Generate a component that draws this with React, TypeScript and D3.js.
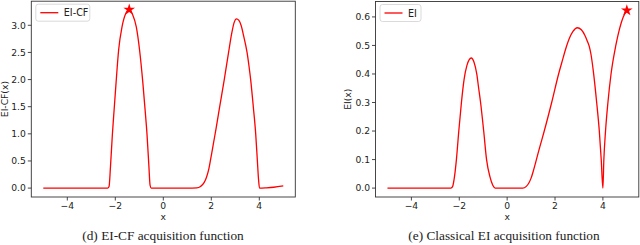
import React from "react";
import * as d3 from "d3";

// ---- data ----
const eiCfX = [-5, -2.32, -2.26, -2.2, -2.12, -2.04, -1.97, -1.86, -1.72, -1.56, -1.42, -1.28, -1.125, -0.99, -0.85, -0.76, -0.68, -0.6, -0.55, -0.5, 0, 1.0, 1.4, 1.55, 1.7, 1.8, 1.9, 2.0, 2.1, 2.2, 2.35, 2.54, 2.72, 2.85, 2.95, 3.05, 3.15, 3.24, 3.35, 3.49, 3.57, 3.64, 3.75, 3.85, 3.92, 3.97, 4.01, 4.3, 4.6, 5.0];
const eiCfY = [0, 0, 0.03, 0.4, 1.0, 1.5, 1.93, 2.55, 2.97, 3.22, 3.29, 3.2, 2.97, 2.55, 1.93, 1.45, 1.0, 0.4, 0.05, 0, 0, 0, 0.005, 0.03, 0.1, 0.2, 0.36, 0.6, 0.85, 1.1, 1.5, 2.0, 2.5, 2.85, 3.05, 3.12, 3.09, 3.0, 2.8, 2.5, 2.25, 2.0, 1.5, 1.0, 0.5, 0.15, 0.0, 0.006, 0.016, 0.04];
const eiCfBest = [-1.42, 3.29];

const eiX = [-5, -2.35, -2.28, -2.2, -2.12, -2.02, -1.91, -1.8, -1.68, -1.5, -1.38, -1.27, -1.19, -1.11, -0.98, -0.86, -0.72, -0.6, -0.5, 0, 0.65, 0.8, 0.9, 1.0, 1.1, 1.2, 1.35, 1.55, 1.86, 2.15, 2.3, 2.48, 2.6, 2.75, 2.93, 3.1, 3.25, 3.35, 3.43, 3.5, 3.6, 3.74, 3.85, 3.93, 4.0, 4.04, 4.11, 4.21, 4.34, 4.54, 4.85, 5.0];
const eiY = [0, 0, 0.005, 0.04, 0.1, 0.2, 0.3, 0.38, 0.43, 0.456, 0.44, 0.4, 0.35, 0.3, 0.2, 0.1, 0.04, 0.01, 0, 0, 0, 0.006, 0.017, 0.035, 0.062, 0.093, 0.14, 0.2, 0.3, 0.4, 0.445, 0.497, 0.525, 0.549, 0.562, 0.555, 0.535, 0.515, 0.497, 0.47, 0.41, 0.3, 0.2, 0.1, 0.0, 0.1, 0.2, 0.3, 0.4, 0.5, 0.6, 0.623];
const eiBest = [5.0, 0.623];

const xTicks = [-4, -2, 0, 2, 4];
const eiCfYTicks = [0, 0.5, 1.0, 1.5, 2.0, 2.5, 3.0];
const eiYTicks = [0, 0.1, 0.2, 0.3, 0.4, 0.5, 0.6];

const tickFont = "DejaVu Sans, sans-serif";

type PanelProps = {
  left: number; right: number; top: number; bottom: number;
  yDomain: [number, number];
  xs: number[]; ys: number[]; best: number[];
  yTicks: number[]; yLabel: string; legend: string; legendW: number;
  ylabelX: number; caption: string; captionX: number;
};

function Panel(p: PanelProps) {
  const x = d3.scaleLinear().domain([-5.5, 5.5]).range([p.left, p.right]);
  const y = d3.scaleLinear().domain(p.yDomain).range([p.bottom, p.top]);
  const pts: [number, number][] = p.xs.map((v, i) => [v, p.ys[i]]);
  const line = d3.line<[number, number]>().x(d => x(d[0])).y(d => y(d[1])).curve(d3.curveMonotoneX);
  const star = d3.symbol().type(d3.symbolStar).size(42)();
  const axColor = "#333";
  const midY = (p.top + p.bottom) / 2;
  return (
    <g>
      <path d={line(pts) || ""} fill="none" stroke="#ff0000" strokeWidth={1.3} />
      <path d={star || ""} transform={`translate(${x(p.best[0])},${y(p.best[1])})`} fill="#ff0000" />
      <rect x={p.left} y={p.top} width={p.right - p.left} height={p.bottom - p.top} fill="none" stroke={axColor} strokeWidth={0.9} />
      {xTicks.map(t => (
        <g key={"x" + t}>
          <line x1={x(t)} x2={x(t)} y1={p.bottom} y2={p.bottom + 3.5} stroke={axColor} strokeWidth={0.9} />
          <text x={x(t)} y={p.bottom + 11.8} textAnchor="middle" fontFamily={tickFont} fontSize={9.2} fill="#222">
            {t < 0 ? "\u2212" + Math.abs(t) : String(t)}
          </text>
        </g>
      ))}
      {p.yTicks.map(t => (
        <g key={"y" + t}>
          <line x1={p.left - 3.5} x2={p.left} y1={y(t)} y2={y(t)} stroke={axColor} strokeWidth={0.9} />
          <text x={p.left - 5.5} y={y(t) + 3.3} textAnchor="end" fontFamily={tickFont} fontSize={9.2} fill="#222">
            {t.toFixed(1)}
          </text>
        </g>
      ))}
      <text x={x(0)} y={p.bottom + 23} textAnchor="middle" fontFamily={tickFont} fontSize={9.2} fill="#222">x</text>
      <text transform={`translate(${p.ylabelX},${midY}) rotate(-90)`} textAnchor="middle" fontFamily={tickFont} fontSize={9.2} fill="#222">{p.yLabel}</text>
      <g>
        <rect x={p.left + 4.5} y={p.top + 3} width={p.legendW} height={17} rx={2.5} fill="white" fillOpacity={0.8} stroke="#d0d0d0" strokeWidth={0.8} />
        <line x1={p.left + 9} x2={p.left + 27} y1={p.top + 11.5} y2={p.top + 11.5} stroke="#ff0000" strokeWidth={1.3} />
        <text x={p.left + 32.5} y={p.top + 15} fontFamily={tickFont} fontSize={9.6} fill="#222">{p.legend}</text>
      </g>
      <text x={p.captionX} y={240} textAnchor="middle" fontFamily="Liberation Serif, Times New Roman, serif" fontSize={13.3} fill="#222">{p.caption}</text>
    </g>
  );
}

export default function App() {
  return (
    <svg width={640} height={245} style={{ position: "absolute", left: 0, top: 0, background: "white" }}>
      <rect width={640} height={245} fill="white" />
      <Panel left={31.3} right={295.3} top={1.2} bottom={197} yDomain={[-0.164, 3.444]}
        xs={eiCfX} ys={eiCfY} best={eiCfBest} yTicks={eiCfYTicks} yLabel="EI-CF(x)"
        legend="EI-CF" legendW={54} ylabelX={8} caption="(d) EI-CF acquisition function" captionX={163} />
      <Panel left={375.5} right={638.8} top={1.5} bottom={197} yDomain={[-0.0312, 0.654]}
        xs={eiX} ys={eiY} best={eiBest} yTicks={eiYTicks} yLabel="EI(x)"
        legend="EI" legendW={41} ylabelX={351} caption="(e) Classical EI acquisition function" captionX={504} />
    </svg>
  );
}
